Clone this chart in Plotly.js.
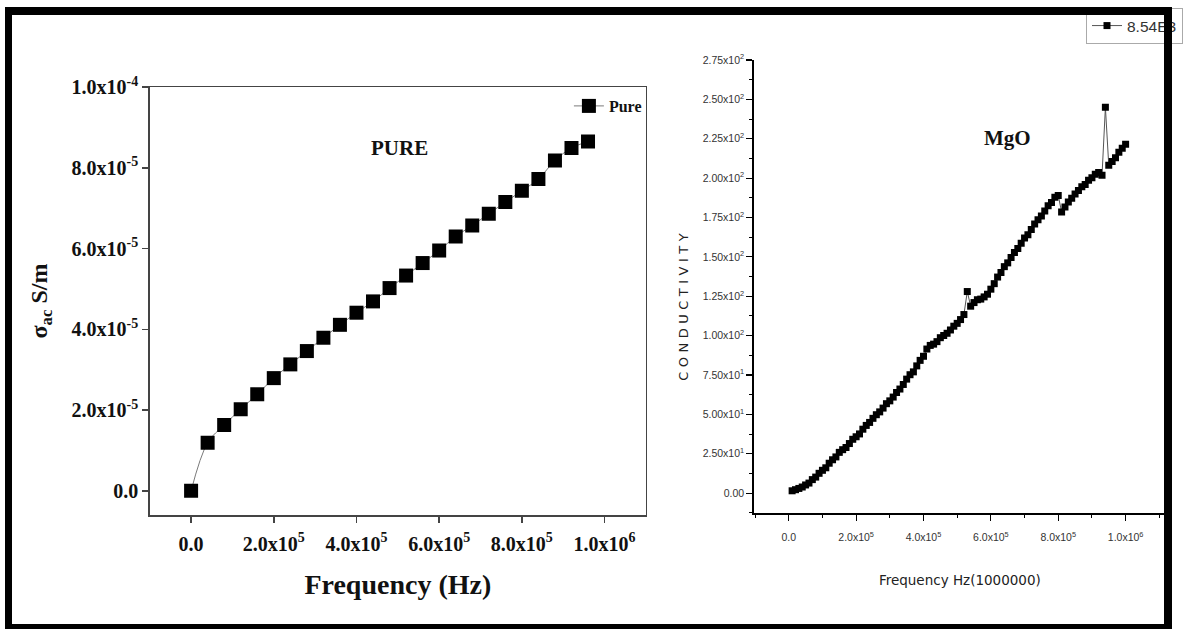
<!DOCTYPE html>
<html><head><meta charset="utf-8">
<script src="https://cdn.plot.ly/plotly-3.0.1.min.js"></script>
<style>
html,body{margin:0;padding:0;background:#fff;}
#wrap{position:relative;width:1183px;height:629px;overflow:hidden;}
#chart{width:1183px;height:629px;}
#frame{position:absolute;left:5px;top:7px;width:1167px;height:622px;box-sizing:border-box;border-style:solid;border-color:#000;border-width:8px 8px 5px 7px;pointer-events:none;}
g.annotation[data-index="2"] text{letter-spacing:4.5px;}
</style></head>
<body><div id="wrap"><div id="chart"></div><div id="frame"></div></div>
<script>
// ---- Left panel: PURE ----
const pureFreq = [0, 4e4, 8e4, 1.2e5, 1.6e5, 2.0e5, 2.4e5, 2.8e5, 3.2e5, 3.6e5, 4.0e5, 4.4e5, 4.8e5,
                  5.2e5, 5.6e5, 6.0e5, 6.4e5, 6.8e5, 7.2e5, 7.6e5, 8.0e5, 8.4e5, 8.8e5, 9.2e5, 9.6e5];
const pureSigma = [0, 1.19e-5, 1.63e-5, 2.02e-5, 2.39e-5, 2.79e-5, 3.13e-5, 3.46e-5, 3.79e-5, 4.11e-5, 4.41e-5, 4.69e-5, 5.02e-5,
                   5.33e-5, 5.64e-5, 5.95e-5, 6.30e-5, 6.57e-5, 6.86e-5, 7.15e-5, 7.43e-5, 7.72e-5, 8.18e-5, 8.49e-5, 8.65e-5];
const pureYTickVals = [0, 2e-5, 4e-5, 6e-5, 8e-5, 1e-4];
const pureYTickText = ['0.0', '2.0x10<sup>-5</sup>', '4.0x10<sup>-5</sup>', '6.0x10<sup>-5</sup>', '8.0x10<sup>-5</sup>', '1.0x10<sup>-4</sup>'];
const freqTickVals = [0, 2e5, 4e5, 6e5, 8e5, 1e6];
const freqTickText = ['0.0', '2.0x10<sup>5</sup>', '4.0x10<sup>5</sup>', '6.0x10<sup>5</sup>', '8.0x10<sup>5</sup>', '1.0x10<sup>6</sup>'];

// ---- Right panel: MgO ----
const mgoFreq = [1e4, 2e4, 3e4, 4e4, 5e4, 6e4, 7e4, 8e4, 9e4, 1.0e5,
                 1.1e5, 1.2e5, 1.3e5, 1.4e5, 1.5e5, 1.6e5, 1.7e5, 1.8e5, 1.9e5, 2.0e5,
                 2.1e5, 2.2e5, 2.3e5, 2.4e5, 2.5e5, 2.6e5, 2.7e5, 2.8e5, 2.9e5, 3.0e5,
                 3.1e5, 3.2e5, 3.3e5, 3.4e5, 3.5e5, 3.6e5, 3.7e5, 3.8e5, 3.9e5, 4.0e5,
                 4.1e5, 4.2e5, 4.3e5, 4.4e5, 4.5e5, 4.6e5, 4.7e5, 4.8e5, 4.9e5, 5.0e5,
                 5.1e5, 5.2e5, 5.3e5, 5.4e5, 5.5e5, 5.6e5, 5.7e5, 5.8e5, 5.9e5, 6.0e5,
                 6.1e5, 6.2e5, 6.3e5, 6.4e5, 6.5e5, 6.6e5, 6.7e5, 6.8e5, 6.9e5, 7.0e5,
                 7.1e5, 7.2e5, 7.3e5, 7.4e5, 7.5e5, 7.6e5, 7.7e5, 7.8e5, 7.9e5, 8.0e5,
                 8.1e5, 8.2e5, 8.3e5, 8.4e5, 8.5e5, 8.6e5, 8.7e5, 8.8e5, 8.9e5, 9.0e5,
                 9.1e5, 9.2e5, 9.3e5, 9.4e5, 9.5e5, 9.6e5, 9.7e5, 9.8e5, 9.9e5, 1.0e6];
const mgoCond = [1.5, 2.2, 3.0, 3.9, 5.2, 6.4, 8.6, 10.2, 12.6, 14.5,
                 16.1, 19.0, 21.2, 23.0, 25.9, 27.6, 29.0, 31.5, 34.2, 35.8,
                 37.6, 40.6, 43.0, 44.9, 47.5, 49.8, 51.6, 54.0, 56.8, 58.6,
                 61.0, 63.9, 66.1, 69.0, 72.4, 75.2, 77.0, 80.8, 84.3, 86.9,
                 91.5, 93.8, 94.6, 96.2, 98.7, 100.1, 101.5, 103.6, 106.0, 107.8,
                 110.2, 113.4, 128.0, 118.7, 121.0, 122.8, 123.2, 124.6, 126.3, 129.5,
                 133.0, 137.2, 140.1, 143.8, 146.2, 149.6, 152.8, 155.4, 158.6, 162.0,
                 164.1, 167.4, 170.9, 173.6, 176.0, 179.2, 182.4, 184.6, 187.8, 189.0,
                 178.5, 181.6, 184.9, 187.3, 190.0, 192.2, 194.6, 196.0, 198.7, 200.3,
                 202.4, 203.5, 201.8, 245.0, 208.2, 210.6, 213.0, 216.4, 219.0, 221.5];
const mgoYTickVals = [0, 25, 50, 75, 100, 125, 150, 175, 200, 225, 250, 275];
const mgoYTickText = ['0.00', '2.50x10<sup>1</sup>', '5.00x10<sup>1</sup>', '7.50x10<sup>1</sup>', '1.00x10<sup>2</sup>',
                      '1.25x10<sup>2</sup>', '1.50x10<sup>2</sup>', '1.75x10<sup>2</sup>', '2.00x10<sup>2</sup>',
                      '2.25x10<sup>2</sup>', '2.50x10<sup>2</sup>', '2.75x10<sup>2</sup>'];

const W = 1183, H = 629;
const px = v => v / W, py = v => 1 - v / H;
const serifBold = (size, color) => ({family: 'Liberation Serif, Times New Roman, serif', size: size, weight: 'bold', color: color || '#111'});
const sans = (size, color) => ({family: 'Liberation Sans, Arial, sans-serif', size: size, color: color || '#333'});

const traces = [
  {x: pureFreq, y: pureSigma, name: 'Pure', mode: 'lines+markers', xaxis: 'x', yaxis: 'y', legend: 'legend',
   line: {color: '#7a7a7a', width: 1, shape: 'spline'},
   marker: {symbol: 'square', size: 14, color: '#000'}},
  {x: mgoFreq, y: mgoCond, name: '8.54E3', mode: 'lines+markers', xaxis: 'x2', yaxis: 'y2', legend: 'legend2',
   line: {color: '#555', width: 1},
   marker: {symbol: 'square', size: 7, color: '#000'}}
];

const layout = {
  width: W, height: H, margin: {l: 0, r: 0, t: 0, b: 0},
  paper_bgcolor: '#fff', plot_bgcolor: '#fff', showlegend: true,
  font: {family: 'Liberation Serif, serif', color: '#000'},
  xaxis: {domain: [px(150), px(647)], range: [-1e5, 1.1e6], anchor: 'y',
    tickmode: 'array', tickvals: freqTickVals, ticktext: freqTickText,
    ticks: 'outside', ticklen: 6, tickwidth: 1.5, tickcolor: '#444', ticklabelstandoff: 4,
    showline: true, linecolor: '#444', linewidth: 1.5, mirror: true, showgrid: false, zeroline: false,
    tickfont: serifBold(20),
    title: {text: 'Frequency (Hz)', font: serifBold(28), standoff: 21}},
  yaxis: {domain: [py(515), py(87)], range: [-6e-6, 1e-4], anchor: 'x',
    tickmode: 'array', tickvals: pureYTickVals, ticktext: pureYTickText,
    ticks: 'outside', ticklen: 6, tickwidth: 1.5, tickcolor: '#444',
    showline: true, linecolor: '#444', linewidth: 1.5, mirror: true, showgrid: false, zeroline: false,
    tickfont: serifBold(20),
    title: {text: 'σ<sub>ac</sub> S/m', font: serifBold(24), standoff: 17}},
  xaxis2: {domain: [px(755), px(1168)], range: [-1.04e5, 1.12e6], anchor: 'y2',
    tickmode: 'array', tickvals: freqTickVals, ticktext: freqTickText,
    ticks: 'outside', ticklen: 6, tickwidth: 1.2, tickcolor: '#000', ticklabelstandoff: 8,
    minor: {tick0: 0, dtick: 1e5, ticks: 'outside', ticklen: 3, tickwidth: 1, tickcolor: '#000'},
    showline: true, linecolor: '#000', linewidth: 1.5, mirror: false, showgrid: false, zeroline: false,
    tickfont: sans(10.5, '#333'),
    title: {text: 'Frequency Hz(1000000)', font: {family: 'DejaVu Sans, sans-serif', size: 13.5, color: '#222'}, standoff: 33}},
  yaxis2: {domain: [py(513), py(60)], range: [-12.6, 275], anchor: 'x2',
    tickmode: 'array', tickvals: mgoYTickVals, ticktext: mgoYTickText,
    ticks: 'outside', ticklen: 6, tickwidth: 1.2, tickcolor: '#000',
    minor: {tick0: 0, dtick: 12.5, ticks: 'outside', ticklen: 3, tickwidth: 1, tickcolor: '#000'},
    showline: true, linecolor: '#000', linewidth: 1.5, mirror: false, showgrid: false, zeroline: false,
    tickfont: sans(10.5, '#333')},
  legend: {x: px(648), xanchor: 'right', y: py(89), yanchor: 'top', bgcolor: 'rgba(0,0,0,0)', borderwidth: 0,
    font: serifBold(16)},
  legend2: {x: px(1088), xanchor: 'left', y: py(8), yanchor: 'top', bgcolor: '#fff', bordercolor: '#aaa', borderwidth: 1,
    font: sans(15.5, '#333')},
  annotations: [
    {text: 'PURE', xref: 'paper', yref: 'paper', x: px(400), y: py(148), xanchor: 'center', yanchor: 'middle',
     showarrow: false, font: serifBold(21)},
    {text: 'MgO', xref: 'paper', yref: 'paper', x: px(1009), y: py(138), xanchor: 'center', yanchor: 'middle',
     showarrow: false, font: serifBold(21)},
    {text: 'CONDUCTIVITY', xref: 'paper', yref: 'paper', x: px(684), y: py(305), xanchor: 'center', yanchor: 'middle',
     textangle: -90, showarrow: false, font: {family: 'DejaVu Sans, sans-serif', size: 13, color: '#222'}}
  ]
};

Plotly.newPlot('chart', traces, layout, {staticPlot: true, displayModeBar: false});
</script></body></html>
